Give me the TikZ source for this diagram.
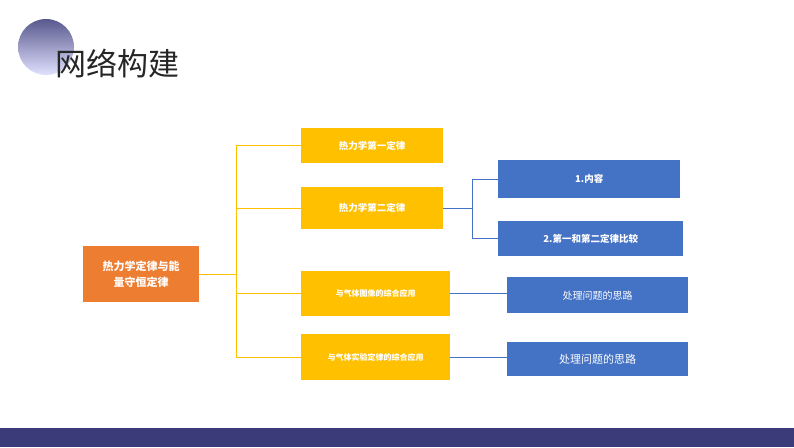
\documentclass[tikz,border=0pt]{standalone}
\usepackage{fontspec}
\setmainfont{Noto Sans CJK SC}
\begin{document}
\begin{tikzpicture}[x=1pt,y=-1pt,
  yb/.style={fill=yellowC,draw=none,text=white,font=\fontsize{9.5}{11}\selectfont\bfseries,anchor=north west},
  bb/.style={fill=blueC,draw=none,text=white,font=\fontsize{10}{12}\selectfont,anchor=north west},
  yl/.style={draw=yellowC,line width=1pt},
  bl/.style={draw=blueC,line width=1pt}]
\definecolor{yellowC}{HTML}{FFC000}
\definecolor{blueC}{HTML}{4472C4}
\definecolor{orangeC}{HTML}{ED7D31}
\definecolor{navy}{HTML}{3B3B7A}
\useasboundingbox (0,0) rectangle (794,447);
\fill[white] (0,0) rectangle (794,447);
\shade[top color=navy!85,bottom color=blue!12!white] (46,47) circle (28);
\node[anchor=west,font=\fontsize{31}{34}\selectfont,text=black!85] (title) at (52,64) {网络构建};
\fill[navy] (0,428) rectangle (794,447);
\node[fill=orangeC,text=white,minimum width=116pt,minimum height=56pt,align=center,anchor=north west,inner sep=0pt,font=\fontsize{11}{16}\selectfont\bfseries] (root) at (83,246) {热力学定律与能\\量守恒定律};
\node[yb,minimum width=142pt,minimum height=35pt] (b1) at (301,128) {热力学第一定律};
\node[yb,minimum width=142pt,minimum height=42pt] (b2) at (301,187) {热力学第二定律};
\node[yb,minimum width=149pt,minimum height=45pt,font=\fontsize{8}{9}\selectfont\bfseries] (b3) at (301,271) {与气体图像的综合应用};
\node[yb,minimum width=149pt,minimum height=46pt,font=\fontsize{8}{9}\selectfont\bfseries] (b4) at (301,334) {与气体实验定律的综合应用};
\node[bb,minimum width=182pt,minimum height=38pt,font=\fontsize{9.5}{11}\selectfont\bfseries] (c1) at (498,160) {1.内容};
\node[bb,minimum width=185pt,minimum height=35pt,font=\fontsize{9.5}{11}\selectfont\bfseries] (c2) at (498,221) {2.第一和第二定律比较};
\node[bb,minimum width=181pt,minimum height=36pt] (c3) at (507,277) {处理问题的思路};
\node[bb,minimum width=181pt,minimum height=34pt,font=\fontsize{11}{13}\selectfont] (c4) at (507,342) {处理问题的思路};
\coordinate (j) at (236,0);
\draw[yl] (root.east) -- (root.east -| j);
\draw[yl] (b1.west) -| (j |- b4.west) -- (b4.west);
\draw[yl] (b2.west -| j) -- (b2.west);
\draw[yl] (b3.west -| j) -- (b3.west);
\coordinate (k) at (472,0);
\draw[bl] (b2.east) -- (b2.east -| k);
\draw[bl] (c1.west) -| (k |- c2.west) -- (c2.west);
\draw[bl] (b3.east) -- (b3.east -| c3.west);
\draw[bl] (b4.east) -- (b4.east -| c4.west);
\end{tikzpicture}
\end{document}
